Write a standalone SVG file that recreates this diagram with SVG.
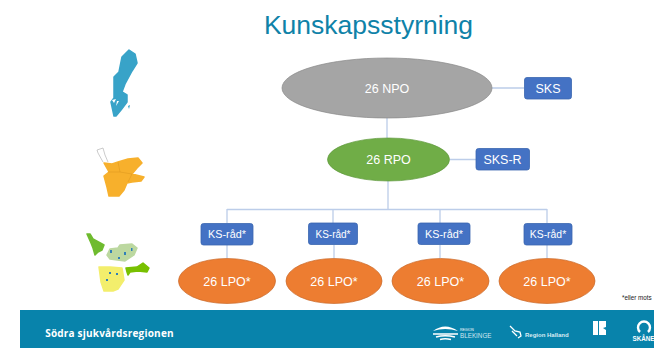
<svg xmlns="http://www.w3.org/2000/svg" width="654" height="348" viewBox="0 0 654 348">
<style>
text{font-family:"Liberation Sans",Arial,sans-serif;fill:#fff;text-anchor:middle}
.c{stroke:#bccde9;stroke-width:1.3;fill:none}
.box{fill:#4472c4;stroke:#3a66b0;stroke-width:.8}
.lpo{fill:#ed7d31;stroke:#c9682a;stroke-width:.7}
.l{font-size:12.500px}
</style>
<rect width="654" height="348" fill="#fff"/>
<text x="368.500" y="34" style="font-size:26.500px;fill:#0f82a8">Kunskapsstyrning</text>
<g id="connectors">
<path class="c" d="M387 118V138M388 181V209M227 209.500H547M227 209V223M227 245V258M333 209V223M334 245V258M440 209V223M440 245V258M547 209V223M547 245V258M492 88H524M450 159.500H476"/>
</g>
<g id="npo"><ellipse cx="387" cy="88" rx="105" ry="30" fill="#a5a5a5" stroke="#8a8a8a" stroke-width=".7"/><text x="387" y="92.500" class="l">26 NPO</text></g>
<g id="rpo"><ellipse cx="388.500" cy="159.500" rx="61" ry="21.500" fill="#70ad47" stroke="#5f9a3c" stroke-width=".7"/><text x="388.500" y="164" class="l">26 RPO</text></g>
<g id="sks"><rect class="box" x="524.500" y="77.500" width="47" height="21.500" rx="2.500"/><text x="548" y="92.500" class="l">SKS</text></g>
<g id="sks-r"><rect class="box" x="476" y="148.500" width="53.500" height="21.500" rx="2.500"/><text x="502.500" y="164" class="l">SKS-R</text></g>
<g id="ks1"><rect class="box" x="201" y="223.500" width="52" height="21.500" rx="2.500"/><text x="227" y="238" style="font-size:10.800px">KS-råd*</text></g>
<g id="ks2"><rect class="box" x="308.500" y="223" width="49" height="21.500" rx="2.500"/><text x="333" y="237.500" style="font-size:10px">KS-råd*</text></g>
<g id="ks3"><rect class="box" x="418" y="223" width="52" height="21.500" rx="2.500"/><text x="444" y="237.500" style="font-size:10.800px">KS-råd*</text></g>
<g id="ks4"><rect class="box" x="524" y="223.500" width="48" height="21.500" rx="2.500"/><text x="548" y="238" style="font-size:10.400px">KS-råd*</text></g>
<g id="lpo1"><ellipse class="lpo" cx="227" cy="281" rx="48.500" ry="22.500"/><text x="227" y="285.500" class="l">26 LPO*</text></g>
<g id="lpo2"><ellipse class="lpo" cx="334" cy="281" rx="48" ry="22.500"/><text x="334" y="285.500" class="l">26 LPO*</text></g>
<g id="lpo3"><ellipse class="lpo" cx="440.500" cy="281" rx="48.500" ry="22.500"/><text x="440.500" y="285.500" class="l">26 LPO*</text></g>
<g id="lpo4"><ellipse class="lpo" cx="547" cy="281" rx="48" ry="22.500"/><text x="547" y="285.500" class="l">26 LPO*</text></g>
<text x="622" y="300" style="font-size:6.300px;fill:#222;text-anchor:start">*eller mots</text>
<g stroke-linejoin="round">
<path fill="#38a3c8" stroke="#38a3c8" stroke-width="1.500" d="M129 50L135 54L137 63L132 71L125 84L122 92L127 95L127 102L121 110L116 116L114 116L111 102L114 98L114 77L119 72L122 57Z"/>
<path fill="#fff" d="M112 100L116 99L114 103ZM117 101L119 101L116 106Z"/>
<path fill="#38a3c8" d="M128 106L130 105L129 109Z"/>
<path fill="#f7b02c" stroke="#f7b02c" stroke-width="1.500" d="M104 163L112 164L118 162L128 159L138 158L142 163L137 168L132 174L144 177L141 181L132 182L127 183L124 190L119 196L109 196L107 187L104 176L109 172Z"/>
<path fill="none" stroke="#a8a8a8" stroke-width=".6" d="M103 162L98 153L97 150L103 148L105 155L108 162"/>
<path fill="none" stroke="#d48f1a" stroke-width=".4" d="M118 162L120 172L132 174M120 172L108 172M132 174L128 182"/>
<path fill="#6fbb2f" stroke="#6fbb2f" stroke-width="1.500" d="M87 234L90 234L93 239L104 245L102 250L98 252L95 255L93 248L91 243Z"/>
<path fill="#bcd8a0" stroke="#bcd8a0" stroke-width="1.500" d="M107 255L110 249L118 248L120 245L132 244L137 248L134 255L125 261L110 259Z"/>
<path fill="#2f7fb8" d="M110 250h2v3h-2zM124 252h2v3h-2zM131 248h1.500v3h-1.500zM118 257h2v2h-2z"/>
<path fill="#f3ee6c" stroke="#f3ee6c" stroke-width="1.500" d="M99 267L110 267L122 268L124 280L118 289L113 291L104 291L101 282Z"/>
<path fill="#2f7fb8" d="M109 272h2v2h-2zM116 273h2v2h-2zM106 279h2v2h-2z"/>
<path fill="#78c000" stroke="#78c000" stroke-width="1.500" d="M126 268L137 267L143 263L149 268L147 272L138 271L130 272L128 275L127 272Z"/>
</g>
<rect x="20" y="310" width="634" height="38" fill="#0883ab"/>
<text x="109.500" y="337" style="font-size:10px;font-weight:bold;letter-spacing:.2px;font-family:'Open Sans','Liberation Sans',sans-serif">Södra sjukvårdsregionen</text>
<g>
<path fill="#fff" d="M433 331Q445 322 458 331Q445 327 433 331Z"/>
<path fill="none" stroke="#fff" stroke-width="1.600" d="M433 334H458M436 337Q445 334.500 455 337M440 339.500Q445 338 451 339.500"/>
<text x="460" y="331" style="font-size:3.500px;text-anchor:start">REGION</text>
<text x="460" y="337.500" style="font-size:6.300px;text-anchor:start;fill:#cfe6ef">BLEKINGE</text>
<path fill="none" stroke="#fff" stroke-width="1.300" d="M510 326L515 331L520 332L521 336L518 338M512 331L517 336"/>
<text x="525" y="337" style="font-size:6px;text-anchor:start;font-weight:bold;fill:#d8ecf3">Region Halland</text>
<path fill="#fff" d="M593 321H598V335H593ZM599 321H606V327L603 328L606 330V335H599Z"/>
<path fill="none" stroke="#fff" stroke-width="2.400" d="M640 332A6 6 0 1 1 648 332"/>
<text x="632.500" y="341" style="font-size:6.300px;font-weight:bold;text-anchor:start">SKÅNE</text>
</g>
</svg>
